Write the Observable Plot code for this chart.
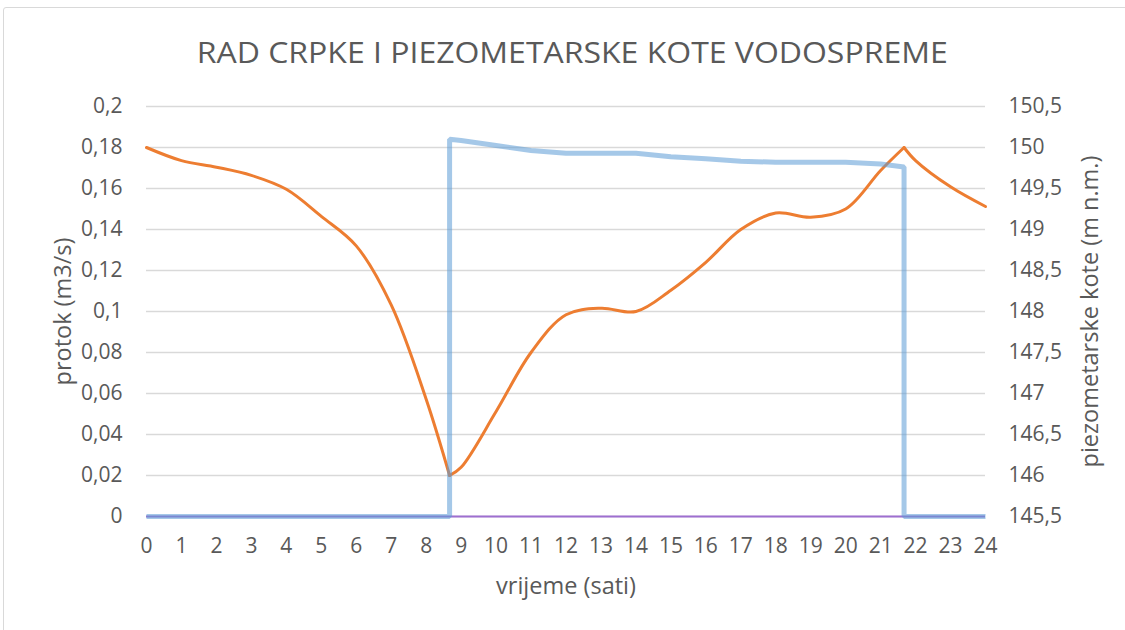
<!DOCTYPE html>
<html><head><meta charset="utf-8">
<script src="https://cdn.jsdelivr.net/npm/d3@7"></script>
<script src="https://cdn.jsdelivr.net/npm/@observablehq/plot@0.6"></script>
<style>
body{margin:0;background:#fff;font-family:"Open Sans",sans-serif;}
#wrap{position:relative;width:1125px;height:630px;overflow:hidden;background:#fff}
#frame{position:absolute;left:3px;top:7px;width:1140px;height:640px;border:1px solid #d9d9d9;border-radius:3px}
#title{position:absolute;top:32px;left:0;width:1145px;text-align:center;font-size:30px;color:#595959;line-height:40px;white-space:nowrap}
#title span{display:inline-block;transform-origin:center}
#chart{position:absolute;left:0;top:0}
</style></head><body>
<div id="wrap"><div id="frame"></div><div id="chart"></div><div id="title"><span id="tspan">RAD CRPKE I PIEZOMETARSKE KOTE VODOSPREME</span></div></div>
<script>
// Piezometric level (m n.m.), right axis
const kotaHours = [0,1,2,3,4,5,6,7,8,8.67,9,10,11,12,13,14,15,16,17,18,19,20,21,21.67,22,23,24];
const kota = [150.0,149.84,149.76,149.66,149.49,149.16,148.8,148.08,146.93,146.0,146.1,146.78,147.5,147.96,148.04,148.0,148.26,148.6,149.0,149.2,149.15,149.25,149.72,150.0,149.84,149.52,149.28];
// Pump flow (m3/s), left axis
const protokHours = [0,8.67,8.67,9,10,11,12,13,14,15,16,17,18,19,20,21,21.67,21.67,24];
const protok = [0,0,0.184,0.1834,0.181,0.1785,0.1772,0.1772,0.1772,0.1755,0.1745,0.1733,0.1728,0.1728,0.1728,0.172,0.1705,0,0];
// Ticks
const xTicks = [0,1,2,3,4,5,6,7,8,9,10,11,12,13,14,15,16,17,18,19,20,21,22,23,24];
const leftTicks = [0,0.02,0.04,0.06,0.08,0.1,0.12,0.14,0.16,0.18,0.2];
const leftLabels = ["0","0,02","0,04","0,06","0,08","0,1","0,12","0,14","0,16","0,18","0,2"];
const rightLabels = ["145,5","146","146,5","147","147,5","148","148,5","149","149,5","150","150,5"];
const rightMin = 145.5, rightMax = 150.5;
const breakHours = [8.67, 21.67];

const toLeft = k => (k - rightMin) / (rightMax - rightMin) * 0.2;
// orange segments (sharp corners at pump switches)
const kotaData = [];
kotaHours.forEach((h, i) => {
  const seg = h < breakHours[0] ? 0 : h < breakHours[1] ? 1 : 2;
  const row = {h, y: toLeft(kota[i])};
  kotaData.push({...row, seg});
  if (breakHours.includes(h)) kotaData.push({...row, seg: seg - 1});
});
kotaData.sort((a,b)=>a.seg-b.seg || a.h-b.h);
const protokData = protokHours.map((h,i)=>({h, y: protok[i]}));

const grey = "#595959";
const chart = Plot.plot({
  width: 1125, height: 630,
  marginTop: 106, marginBottom: 114, marginLeft: 146, marginRight: 140,
  x: {domain: [0, 24]},
  y: {domain: [0, 0.2]},
  style: {fontFamily: "'Open Sans', sans-serif", fontSize: "21px", color: grey, background: "transparent"},
  marks: [
    Plot.ruleY(leftTicks, {stroke: "#d9d9d9", strokeWidth: 1.3}),
    Plot.axisY({anchor: "left", ticks: leftTicks, tickFormat: d => leftLabels[leftTicks.indexOf(d)], tickSize: 0, tickPadding: 24, label: null, fill: grey}),
    Plot.axisY({anchor: "right", ticks: leftTicks, tickFormat: d => rightLabels[leftTicks.indexOf(d)], tickSize: 0, tickPadding: 23, label: null, fill: grey}),
    Plot.axisX({ticks: xTicks, tickFormat: d => String(d), tickSize: 0, tickPadding: 22, label: null, fill: grey}),
    Plot.ruleY([0], {stroke: "#9e6fd0", strokeWidth: 2}),
    Plot.line(kotaData, {x: "h", y: "y", z: "seg", stroke: "#ED7D31", strokeWidth: 3, curve: "catmull-rom"}),
    Plot.line(protokData, {x: "h", y: "y", stroke: "#5B9BD5", strokeOpacity: 0.55, strokeWidth: 5, strokeLinejoin: "miter", strokeLinecap: "butt"}),
    Plot.text(["protok (m3/s)"], {frameAnchor: "left", textAnchor: "middle", dx: -83, rotate: -90, fontSize: 23.5, fill: grey}),
    Plot.text(["piezometarske kote (m n.m.)"], {frameAnchor: "right", textAnchor: "middle", dx: 105, rotate: -90, fontSize: 23.5, fill: grey}),
    Plot.text(["vrijeme (sati)"], {frameAnchor: "bottom", textAnchor: "middle", dy: 77, fontSize: 23.5, fill: grey})
  ]
});
document.getElementById("chart").appendChild(chart);
const sp = document.getElementById("tspan");
const w = sp.getBoundingClientRect().width;
sp.style.transform = `scaleX(${751 / w})`;
</script>
</body></html>
